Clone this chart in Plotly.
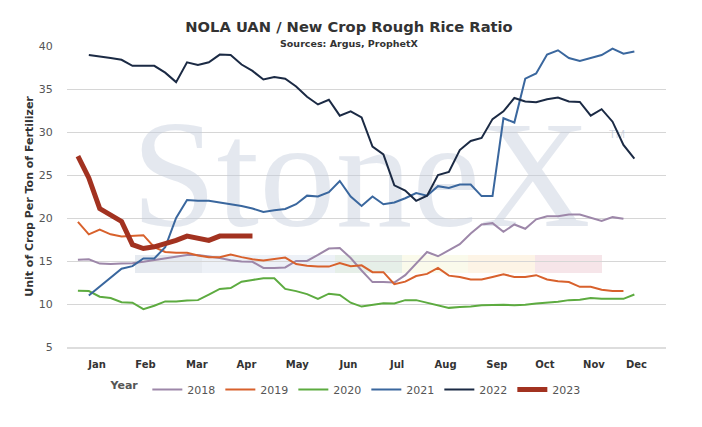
import plotly.graph_objects as go

# weekly ratio by year (week of year on x)
weeks_2018 = list(range(1, 52))
ratio_2018 = [15.15, 15.2, 14.7, 14.65, 14.7, 14.75, 14.9, 15.1, 15.35, 15.5,
              15.7, 15.7, 15.55, 15.35, 15.1, 14.95, 14.9, 14.2, 14.2, 14.25,
              15.0, 15.0, 15.7, 16.45, 16.5, 15.35, 13.9, 12.55, 12.55, 12.5,
              13.35, 14.7, 16.05, 15.55, 16.25, 16.95, 18.2, 19.25, 19.4, 18.4,
              19.25, 18.75, 19.85, 20.2, 20.2, 20.4, 20.4, 20.05, 19.65, 20.1, 19.9]

weeks_2019 = list(range(1, 52))
ratio_2019 = [19.55, 18.1, 18.65, 18.1, 17.85, 17.9, 18.0, 16.6, 16.05, 15.95,
              15.95, 15.65, 15.45, 15.45, 15.75, 15.45, 15.2, 15.05, 15.2, 15.4,
              14.65, 14.45, 14.35, 14.35, 14.75, 14.4, 14.5, 13.7, 13.7, 12.3,
              12.6, 13.25, 13.5, 14.2, 13.3, 13.15, 12.85, 12.85, 13.15, 13.45,
              13.15, 13.15, 13.35, 12.85, 12.65, 12.55, 12.0, 12.0, 11.65, 11.5, 11.5]

weeks_2020 = list(range(1, 53))
ratio_2020 = [11.55, 11.5, 10.85, 10.7, 10.2, 10.15, 9.4, 9.8, 10.3, 10.3,
              10.4, 10.45, 11.1, 11.75, 11.85, 12.6, 12.8, 13.0, 13.0, 11.75,
              11.5, 11.15, 10.6, 11.2, 11.05, 10.15, 9.7, 9.9, 10.1, 10.05,
              10.45, 10.45, 10.15, 9.85, 9.55, 9.65, 9.7, 9.85, 9.9, 9.9,
              9.85, 9.9, 10.05, 10.15, 10.25, 10.45, 10.5, 10.7, 10.6, 10.6,
              10.6, 11.1]

weeks_2021 = list(range(2, 53))
ratio_2021 = [10.98, 12.0, 13.1, 14.1, 14.4, 15.3, 15.3, 16.6, 20.0, 22.1,
              22.0, 22.0, 21.8, 21.6, 21.4, 21.1, 20.7, 20.9, 21.05, 21.6,
              22.6, 22.5, 23.0, 24.3, 22.5, 21.4, 22.5, 21.6, 21.8, 22.3,
              22.9, 22.6, 23.7, 23.5, 23.9, 23.9, 22.55, 22.55, 31.6, 31.1,
              36.2, 36.8, 39.0, 39.5, 38.6, 38.25, 38.6, 38.95, 39.7, 39.1, 39.35]

weeks_2022 = list(range(2, 53))
ratio_2022 = [38.95, 38.8, 38.6, 38.4, 37.7, 37.7, 37.7, 36.9, 35.8, 38.1,
              37.8, 38.1, 39.0, 38.95, 37.85, 37.1, 36.1, 36.4, 36.2, 35.3,
              34.1, 33.2, 33.75, 31.9, 32.4, 31.7, 28.3, 27.4, 23.8, 23.2,
              22.0, 22.6, 25.0, 25.35, 27.9, 28.95, 29.3, 31.5, 32.4, 33.95,
              33.55, 33.45, 33.8, 34.0, 33.55, 33.5, 31.9, 32.65, 31.2, 28.5, 26.9]

weeks_2023 = list(range(1, 18))
ratio_2023 = [27.2, 24.65, 21.1, 20.35, 19.6, 16.9, 16.45, 16.65, 17.0, 17.4,
              17.9, 17.6, 17.4, 17.9, 17.95, 17.9, 17.9]

month_labels = ["Jan", "Feb", "Mar", "Apr", "May", "Jun",
                "Jul", "Aug", "Sep", "Oct", "Nov", "Dec"]
month_weeks = [2.75, 7.2, 11.9, 16.45, 21.1, 25.8, 30.25, 34.7, 39.4, 43.8, 48.3, 52.2]

series = [
    ("2018", weeks_2018, ratio_2018, "#9d87a9", 2),
    ("2019", weeks_2019, ratio_2019, "#d8612c", 2),
    ("2020", weeks_2020, ratio_2020, "#5dab40", 2),
    ("2021", weeks_2021, ratio_2021, "#3a679e", 2),
    ("2022", weeks_2022, ratio_2022, "#1b2a44", 2),
    ("2023", weeks_2023, ratio_2023, "#a23220", 5),
]

# page body adds an 8px margin, so layout pixels are screen pixels minus OFF
OFF = 8
W, H = 702, 427
L = 67 - OFF
T = 46 - OFF
R = W - (666 - OFF)
B = H - (347 - OFF)
pw, ph = W - L - R, H - T - B


def px_x(p):
    return (p - OFF - L) / pw


def px_y(p):
    return (H - B - (p - OFF)) / ph


fig = go.Figure()

# faint StoneX watermark behind the lines
fig.add_trace(go.Scatter(
    x=[26.95], y=[23.5], mode="text", text=["StoneX"],
    textfont=dict(family="Liberation Serif", size=153, color="rgba(196,205,220,0.45)"),
    hoverinfo="skip", showlegend=False))
fig.add_trace(go.Scatter(
    x=[50.4], y=[29.6], mode="text", text=["TM"],
    textfont=dict(family="Liberation Sans", size=11, color="rgba(190,198,212,0.7)"),
    hoverinfo="skip", showlegend=False))

for name, xs, ys, color, width in series:
    fig.add_trace(go.Scatter(
        x=xs, y=ys, name=name, mode="lines",
        line=dict(color=color, width=width)))

# logo colour bar under the watermark
bar_edges = [135, 202, 335, 402, 468, 535, 602]
bar_colors = ["#e6eaf0", "#edf1f7", "#e6efe8", "#fafaeb", "#fdf4e6", "#f6e5e9"]
shapes = []
for i, c in enumerate(bar_colors):
    shapes.append(dict(type="rect", xref="paper", yref="paper", layer="below",
                       x0=px_x(bar_edges[i]), x1=px_x(bar_edges[i + 1]),
                       y0=px_y(273), y1=px_y(255),
                       fillcolor=c, line=dict(width=0)))

fig.update_layout(
    width=W, height=H,
    margin=dict(l=L, r=R, t=T, b=B),
    paper_bgcolor="white", plot_bgcolor="white",
    font=dict(family="DejaVu Sans", color="#555555", size=11),
    title=dict(text="<b>NOLA UAN / New Crop Rough Rice Ratio</b>",
               x=(349 - OFF) / W, xanchor="center", y=1 - (27 - OFF) / H, yanchor="middle",
               font=dict(size=14.7, color="#333333")),
    shapes=shapes,
    annotations=[dict(text="<b>Sources: Argus, ProphetX</b>", xref="paper", yref="paper",
                      x=px_x(349), y=px_y(44), xanchor="center", yanchor="middle",
                      showarrow=False, bgcolor="white",
                      font=dict(size=9.5, color="#333333"))],
    legend=dict(orientation="h", x=px_x(347), xanchor="center", y=px_y(375), yanchor="top",
                title=dict(text="<b>Year</b>", font=dict(size=11, color="#555555")),
                font=dict(size=11, color="#555555")),
    showlegend=True,
)

fig.update_xaxes(range=[0, 54.9], tickvals=month_weeks,
                 ticktext=["<b>%s</b>" % m for m in month_labels],
                 tickfont=dict(size=10, color="#333333"),
                 ticks="outside", ticklen=7, tickcolor="rgba(0,0,0,0)",
                 showgrid=False, zeroline=False,
                 showline=True, linecolor="#dddddd", linewidth=2)
fig.update_yaxes(range=[5, 40], dtick=5, tickfont=dict(size=11, color="#555555"),
                 ticks="outside", ticklen=11, tickcolor="rgba(0,0,0,0)",
                 gridcolor="#d6d6d6", gridwidth=1, zeroline=False,
                 title=dict(text="<b>Unit of Crop Per Ton of Fertilizer</b>",
                            font=dict(size=11, color="#333333"), standoff=2))

fig.write_html("out.html")
